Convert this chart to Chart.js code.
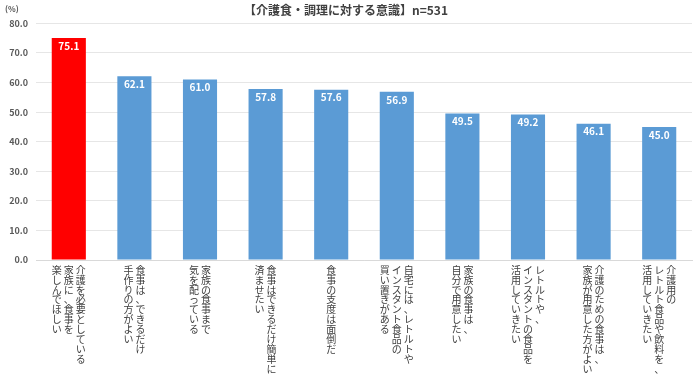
<!DOCTYPE html>
<html>
<head>
<meta charset="utf-8">
<script src="https://cdn.jsdelivr.net/npm/chart.js@4"></script>
<style>
  body { margin: 0; background: #fff; }
</style>
</head>
<body>
<canvas id="chart" width="700" height="380"></canvas>
<script>
// categories (each entry = lines of vertical text, first line is the rightmost column)
const categories = [
  ['介護を必要としている', '家族に、食事を', '楽しんでほしい'],
  ['食事は、できるだけ', '手作りの方がよい'],
  ['家族の食事まで', '気を配っている'],
  ['食事はできるだけ簡単に', '済ませたい'],
  ['食事の支度は面倒だ'],
  ['自宅には、レトルトや', 'インスタント食品の', '買い置きがある'],
  ['家族の食事は、', '自分で用意したい'],
  ['レトルトや、', 'インスタントの食品を', '活用していきたい'],
  ['介護のための食事は、', '家族が用意した方がよい'],
  ['介護用の', 'レトルト食品や飲料を、', '活用していきたい']
]
const values = [75.1, 62.1, 61.0, 57.8, 57.6, 56.9, 49.5, 49.2, 46.1, 45.0]
const barColors = ['#FF0000', '#5B9BD5', '#5B9BD5', '#5B9BD5', '#5B9BD5', '#5B9BD5', '#5B9BD5', '#5B9BD5', '#5B9BD5', '#5B9BD5']
const yTicks = [0, 10, 20, 30, 40, 50, 60, 70, 80]

const jp = '"Noto Sans CJK JP", "Noto Sans", sans-serif'

// white value labels inside the top of each bar
const valueLabels = {
  id: 'valueLabels',
  afterDatasetsDraw(chart) {
    const ctx = chart.ctx
    const meta = chart.getDatasetMeta(0)
    ctx.save()
    ctx.fillStyle = '#fff'
    ctx.font = 'bold 10px ' + jp
    ctx.textAlign = 'center'
    ctx.textBaseline = 'middle'
    meta.data.forEach((bar, i) => {
      ctx.fillText(values[i].toFixed(1), bar.x, bar.y + 8)
    })
    ctx.restore()
  }
}

// upright vertical Japanese labels under the x axis, plus the (%) unit
const verticalLabels = {
  id: 'verticalLabels',
  afterDraw(chart) {
    const ctx = chart.ctx
    const xs = chart.scales.x
    const top = chart.chartArea.bottom + 10
    const colGap = 12
    const pitch = 9.9
    ctx.save()
    ctx.fillStyle = '#404040'
    ctx.font = '10px ' + jp
    ctx.textAlign = 'center'
    ctx.textBaseline = 'middle'
    categories.forEach((lines, i) => {
      const cx = xs.getPixelForValue(i)
      const n = lines.length
      lines.forEach((line, j) => {
        const x = cx + ((n - 1) / 2 - j) * colGap
        Array.from(line).forEach((ch, k) => {
          ctx.fillText(ch, x, top + k * pitch)
        })
      })
    })
    ctx.fillStyle = '#595959'
    ctx.font = 'bold 8px ' + jp
    ctx.textAlign = 'left'
    ctx.fillText('(%)', 5, 9)
    ctx.restore()
  }
}

new Chart(document.getElementById('chart'), {
  type: 'bar',
  data: {
    labels: categories.map(c => c.join('')),
    datasets: [{
      data: values,
      backgroundColor: barColors,
      barPercentage: 0.52,
      categoryPercentage: 1.0
    }]
  },
  options: {
    responsive: false,
    animation: false,
    layout: { padding: { left: 0, right: 8, top: 0, bottom: 0 } },
    plugins: {
      legend: { display: false },
      tooltip: { enabled: false },
      title: {
        display: true,
        text: '【介護食・調理に対する意識】n=531',
        color: '#404040',
        font: { family: jp, size: 12, weight: 'bold' },
        padding: { top: 3, bottom: 6 }
      }
    },
    scales: {
      x: {
        grid: { display: false },
        border: { color: '#d9d9d9' },
        ticks: { display: false },
        afterFit(scale) { scale.height = 120 }
      },
      y: {
        min: 0,
        max: 80,
        afterBuildTicks(scale) { scale.ticks = yTicks.map(v => ({ value: v })) },
        afterFit(scale) { scale.width = 36 },
        grid: { color: '#e6e6e6', drawTicks: false },
        border: { display: false },
        ticks: {
          padding: 8,
          color: '#595959',
          font: { family: jp, size: 9, weight: 'bold' },
          callback: v => v.toFixed(1)
        }
      }
    }
  },
  plugins: [valueLabels, verticalLabels]
})
</script>
</body>
</html>
